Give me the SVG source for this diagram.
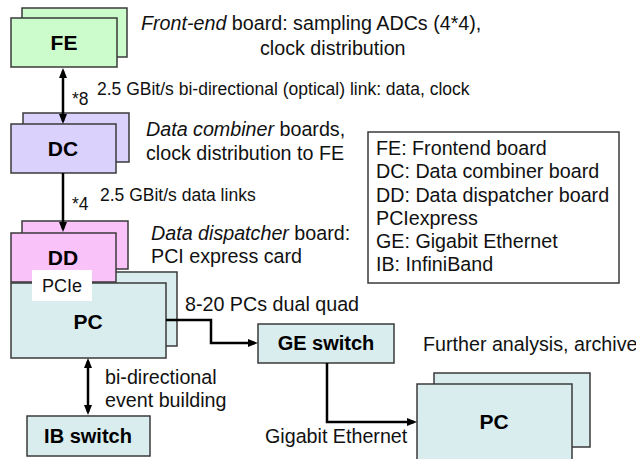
<svg xmlns="http://www.w3.org/2000/svg" width="636" height="459" viewBox="0 0 636 459">
<defs>
<style>
.box{stroke:#3a3a3a;stroke-width:1.5}
.fe{fill:#ccfccc}
.dc{fill:#dad2fd}
.dd{fill:#f9c2f9}
.pc{fill:#d9ecee}
.lbl{font-family:"Liberation Sans",Arial,sans-serif;font-weight:bold;font-size:21px;fill:#000;text-anchor:middle}
.txt{font-family:"Liberation Sans",Arial,sans-serif;font-size:19.7px;fill:#111}
.sm{font-family:"Liberation Sans",Arial,sans-serif;font-size:17.5px;fill:#111}
.leg{font-family:"Liberation Sans",Arial,sans-serif;font-size:19.7px;fill:#111}
.conn{fill:none;stroke:#000;stroke-width:2.5}
</style>
<marker id="ah" viewBox="0 0 10 8" refX="7" refY="4" markerWidth="10" markerHeight="8" markerUnits="userSpaceOnUse" orient="auto-start-reverse">
<path d="M0,0 L10,4 L0,8 z" fill="#000"/>
</marker>
</defs>
<rect width="636" height="459" fill="#fff"/>

<g id="fe">
<rect class="box fe" x="22" y="8" width="105" height="49"/>
<rect class="box fe" x="11" y="18" width="106" height="49"/>
<text class="lbl" x="64" y="50">FE</text>
</g>

<g id="dc">
<rect class="box dc" x="23" y="113" width="106" height="49"/>
<rect class="box dc" x="11" y="124" width="105" height="49"/>
<text class="lbl" x="63" y="156">DC</text>
</g>

<g id="pc1">
<rect class="box pc" x="22" y="272" width="155" height="74"/>
<rect class="box pc" x="11" y="283" width="155" height="75"/>
<text class="lbl" x="88" y="329">PC</text>
</g>

<g id="dd">
<rect class="box dd" x="22" y="221" width="106" height="48"/>
<rect class="box dd" x="11" y="233" width="105" height="49"/>
<text class="lbl" x="63" y="265">DD</text>
</g>

<g id="pcie">
<rect x="32" y="270" width="60" height="31" fill="#fff"/>
<text class="txt" x="62" y="292" text-anchor="middle" style="font-size:18px">PCIe</text>
</g>

<g id="ge">
<rect class="box pc" x="258" y="324" width="136" height="39"/>
<text class="lbl" x="326" y="350" style="font-size:20px">GE switch</text>
</g>

<g id="ib">
<rect class="box pc" x="27" y="416" width="123" height="40"/>
<text class="lbl" x="88" y="443" style="font-size:20px">IB switch</text>
</g>

<g id="pc2">
<rect class="box pc" x="434" y="373" width="156" height="74"/>
<rect class="box pc" x="417" y="384" width="155" height="80"/>
<text class="lbl" x="494" y="429">PC</text>
</g>

<g id="legend">
<rect x="368" y="132" width="251" height="151" fill="#fff" stroke="#3a3a3a" stroke-width="1.5"/>
<text class="leg" x="376" y="155">FE: Frontend board</text>
<text class="leg" x="376" y="178">DC: Data combiner board</text>
<text class="leg" x="376" y="201.5">DD: Data dispatcher board</text>
<text class="leg" x="376" y="224.5">PCIexpress</text>
<text class="leg" x="376" y="248">GE: Gigabit Ethernet</text>
<text class="leg" x="376" y="271">IB: InfiniBand</text>
</g>

<g id="connectors">
<line class="conn" x1="63" y1="71" x2="63" y2="121" marker-start="url(#ah)" marker-end="url(#ah)"/>
<line class="conn" x1="63" y1="173" x2="63" y2="229" marker-end="url(#ah)"/>
<line class="conn" x1="88" y1="361" x2="88" y2="412" marker-start="url(#ah)" marker-end="url(#ah)"/>
<polyline class="conn" points="166,320 211,320 211,343 255,343" marker-end="url(#ah)"/>
<polyline class="conn" points="327,363 327,422 414,422" marker-end="url(#ah)"/>
</g>

<g id="labels">
<text class="txt" x="141" y="30"><tspan font-style="italic">Front-end</tspan> board: sampling ADCs (4*4),</text>
<text class="txt" x="260" y="55">clock distribution</text>
<text class="sm" x="72" y="105">*8</text>
<text class="sm" x="97" y="95">2.5 GBit/s bi-directional (optical) link: data, clock</text>
<text class="txt" x="146" y="136"><tspan font-style="italic">Data combiner</tspan> boards,</text>
<text class="txt" x="146" y="160">clock distribution to FE</text>
<text class="sm" x="72" y="210">*4</text>
<text class="sm" x="100" y="201">2.5 GBit/s data links</text>
<text class="txt" x="151" y="240"><tspan font-style="italic">Data dispatcher</tspan> board:</text>
<text class="txt" x="151" y="263">PCI express card</text>
<text class="txt" x="185" y="311">8-20 PCs dual quad</text>
<text class="txt" x="105" y="384">bi-directional</text>
<text class="txt" x="105" y="407">event building</text>
<text class="txt" x="265" y="443">Gigabit Ethernet</text>
<text class="txt" x="423" y="351">Further analysis, archive</text>
</g>
</svg>
